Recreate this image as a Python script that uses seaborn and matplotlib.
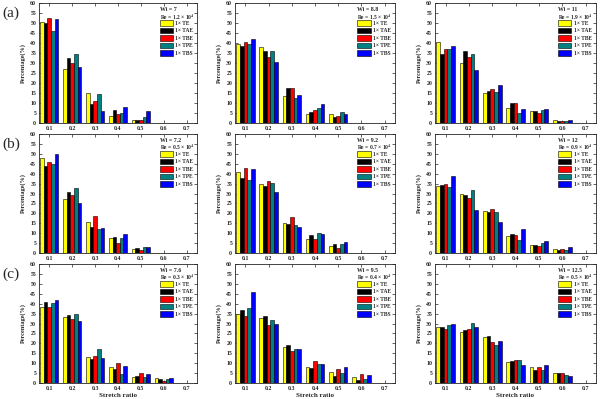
import numpy as np
import pandas as pd
import matplotlib
matplotlib.use("Agg")
import matplotlib.pyplot as plt
import seaborn as sns
from matplotlib.patches import Patch

sns.set_style("ticks")
plt.rcParams['font.family'] = ['Liberation Serif', 'DejaVu Serif']
plt.rcParams['font.weight'] = 'bold'
plt.rcParams['mathtext.fontset'] = 'stix'

categories = ["0.1", "0.2", "0.3", "0.4", "0.5", "0.6", "0.7"]
series = ["1× TE", "1× TAE", "1× TBE", "1× TPE", "1× TBS"]
colors = ["#FFFF00", "#000000", "#FF0000", "#008080", "#0000FF"]

# values per panel: rows = categories, cols = series
a1 = [[50.5, 50, 52.5, 46, 52], [27, 32.5, 30, 34.5, 28], [15, 9.5, 11, 14.5, 6],
      [3.5, 6.5, 4.5, 5, 8], [1.5, 1.5, 1.5, 3, 6], [0, 0, 0, 0, 0], [0, 0, 0, 0, 0]]
a2 = [[39.5, 38.5, 40.5, 39.5, 42], [38, 36, 33, 36, 30.5], [13.5, 17.5, 17.5, 12.5, 14],
      [4.5, 5.5, 6.5, 7.5, 9.5], [4.5, 3, 3.5, 5.5, 4.5], [0, 0, 0, 0, 0], [0, 0, 0, 0, 0]]
a3 = [[40.5, 34.5, 37, 37, 38.5], [30, 36, 33, 34.5, 26.5], [15, 16, 17, 15.5, 19],
      [7.5, 10, 10, 5, 7], [6, 6, 5, 6.5, 7], [1.5, 1, 1, 1, 1.5], [0, 0, 0, 0, 0]]
b1 = [[48, 44, 46, 45, 50], [27, 31, 29, 33, 25], [15.5, 13, 18.5, 12, 12.5],
      [7.5, 8, 5, 7.5, 9.5], [2, 2.5, 1.5, 3, 3], [0, 0, 0, 0, 0], [0, 0, 0, 0, 0]]
b2 = [[41, 38, 43, 37, 42.5], [35, 34, 36.5, 35.5, 31], [15, 14.5, 18, 14, 13],
      [7, 9, 7, 10, 9.5], [3.5, 4.5, 2.5, 4.5, 5.5], [0, 0, 0, 0, 0], [0, 0, 0, 0, 0]]
b3 = [[34, 34.5, 35, 33.5, 39], [29.5, 29, 27.5, 32, 21.5], [21, 20.5, 22, 20.5, 15.5],
      [8.5, 9.5, 9, 6.5, 12], [4, 4, 3.5, 5, 6], [2, 1.5, 2, 1.5, 3], [0, 0, 0, 0, 0]]
c1 = [[38.5, 41, 38.5, 40.5, 42], [33.5, 34.5, 32.5, 35, 31.5], [13, 12, 13.5, 17, 12.5],
      [8, 7, 10, 4.5, 8.5], [3, 3.5, 5, 3, 4.5], [2.5, 2, 1, 2, 2.5], [0, 0, 0, 0, 0]]
c2 = [[35, 37, 34, 38, 46], [33, 34, 29, 32, 29.5], [18, 19, 16, 17, 17],
      [8, 7.5, 11, 9.5, 9.5], [5.5, 3.5, 7, 5, 8], [3, 1.5, 4.5, 2, 4], [0, 0, 0, 0, 0]]
c3 = [[28, 28, 27, 29, 30], [25.5, 26.5, 27, 30.5, 28], [23, 23.5, 20.5, 19, 21],
      [10.5, 11, 11.5, 11.5, 9], [8, 6.5, 8, 6.5, 9], [5, 5, 5, 4, 3.5], [0, 0, 0, 0, 0]]

wi_labels = ["7", "8.8", "11", "7.2", "9.2", "12", "7.6", "9.5", "12.5"]
re_labels = ["1.2", "1.5", "1.9", "0.5", "0.7", "0.9", "0.3", "0.4", "0.5"]
panels = [a1, a2, a3, b1, b2, b3, c1, c2, c3]
row_labels = ["(a)", "(b)", "(c)"]

W, H = 600, 399
fig = plt.figure(figsize=(6, 3.99), dpi=100)

lefts = [39, 235, 435]
widths = [158, 160, 161]
tops = [3, 134, 264]
heights = [120, 119, 119]

for i, vals in enumerate(panels):
    r, c = divmod(i, 3)
    l, t, w, h = lefts[c], tops[r], widths[c], heights[r]
    ax = fig.add_axes([l / W, 1 - (t + h) / H, w / W, h / H])
    rows = []
    for ci, cat in enumerate(categories):
        for si, s in enumerate(series):
            rows.append({"ratio": cat, "series": s, "pct": vals[ci][si]})
    df = pd.DataFrame(rows)
    sns.barplot(data=df, x="ratio", y="pct", hue="series", order=categories,
                hue_order=series, palette=colors, width=0.8, edgecolor="black",
                linewidth=0.4, legend=False, ax=ax, saturation=1)
    ax.set_xlim(-0.45, 6.45)
    ax.set_ylim(0, 60)
    ax.set_yticks(np.arange(0, 61, 5))
    ax.tick_params(axis='both', labelsize=4.2, direction='in', length=2,
                   width=0.5, top=True, right=True, pad=2)
    for lab in ax.get_xticklabels() + ax.get_yticklabels():
        lab.set_fontweight('bold')
    for sp in ax.spines.values():
        sp.set_linewidth(0.6)
    ax.set_ylabel("Percentage(%)", fontsize=4.5, fontweight='bold', labelpad=3)
    if r == 2:
        ax.set_xlabel("Stretch ratio", fontsize=5, fontweight='bold', labelpad=1.5)
    else:
        ax.set_xlabel("")
    ax.text(0.765, 0.945, f"Wi = {wi_labels[i]}", transform=ax.transAxes,
            fontsize=4.2, fontweight='bold', va='center')
    ax.text(0.765, 0.885, f"Re = {re_labels[i]} × 10$^4$", transform=ax.transAxes,
            fontsize=4.0, fontweight='bold', va='center')
    handles = [Patch(facecolor=col, edgecolor='black', linewidth=0.4) for col in colors]
    ax.legend(handles, series, loc='upper left', bbox_to_anchor=(0.765, 0.855),
              frameon=False, handlelength=2.4, handleheight=1.1,
              labelspacing=0.35, handletextpad=0.4, borderaxespad=0, borderpad=0,
              prop={'weight': 'bold', 'size': 4})

for r in range(3):
    fig.text(2 / W, 1 - (tops[r] + 10) / H, row_labels[r], fontsize=11,
             fontweight='normal', va='center', ha='left')

fig.savefig("out.png", dpi=100)
